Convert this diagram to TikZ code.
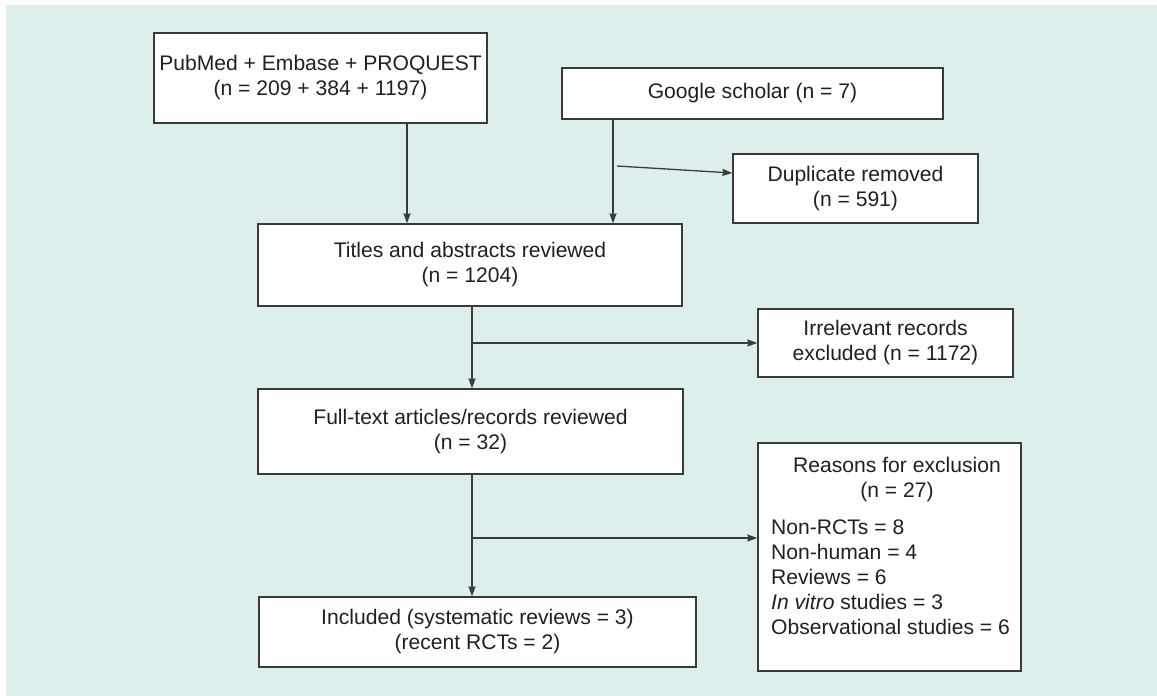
\documentclass[tikz,border=0pt]{standalone}
\usepackage{fontspec}
\setmainfont{Liberation Sans}
\usetikzlibrary{arrows.meta}
\definecolor{panel}{RGB}{220,239,237}
\definecolor{boxline}{RGB}{58,58,58}
\definecolor{ink}{RGB}{35,31,32}
\newcommand{\flowfont}{\fontsize{21.1}{25}\selectfont}
\tikzset{
  flowbox/.style={draw=boxline, fill=white, line width=1.3pt, inner sep=0pt,
    align=center, text=ink, font=\flowfont},
  flowtext/.style={inner sep=0pt, text=ink, font=\flowfont},
  arr/.style={draw=boxline, line width=1.3pt,
    -{Stealth[length=10pt,width=7pt,inset=1pt]}},
  link/.style={draw=boxline, line width=1.3pt}
}
\begin{document}
\begin{tikzpicture}[x=1pt,y=-1pt]
\useasboundingbox (0,0) rectangle (1157,696);
\fill[panel] (6,5) rectangle (1157,696);

% boxes
\node[flowbox, minimum width=333pt, minimum height=90pt] (pub) at (320.5,78)
  {PubMed + Embase + PROQUEST\\(n = 209 + 384 + 1197)};
\node[flowbox, minimum width=381pt, minimum height=51pt] (goo) at (752.5,93.5)
  {Google scholar (n = 7)};
\node[flowbox, minimum width=245pt, minimum height=69pt] (dup) at (855.5,188.5)
  {Duplicate removed\\(n = 591)};
\node[flowbox, minimum width=424pt, minimum height=82pt] (tit) at (470,265)
  {Titles and abstracts reviewed\\(n = 1204)};
\node[flowbox, minimum width=255pt, minimum height=68pt] (irr) at (885.5,343)
  {Irrelevant records\\excluded (n = 1172)};
\node[flowbox, minimum width=425pt, minimum height=85pt] (ful) at (470.5,431.5)
  {Full-text articles/records reviewed\\(n = 32)};
\node[flowbox, minimum width=263pt, minimum height=228pt] (rea) at (889.5,557) {};
\node[flowbox, minimum width=437pt, minimum height=70pt] (inc) at (477.5,632)
  {Included (systematic reviews = 3)\\(recent RCTs = 2)};

% contents of the exclusion box
\node[flowtext, align=center] (reahead) at (897,479.5)
  {Reasons for exclusion\\(n = 27)};
\node[flowtext, align=left, anchor=west] (realist) at (771,577)
  {Non-RCTs = 8\\Non-human = 4\\Reviews = 6\\\textit{In vitro} studies = 3\\Observational studies = 6};

% routing guides
\coordinate (xa) at (407,0);
\coordinate (xb) at (613,0);
\coordinate (xc) at (472,0);
\coordinate (dupfrom) at (617,166);
\coordinate (dupto) at (733,173);
\coordinate (irrjoin) at (472,343);
\coordinate (reajoin) at (472,538);

% connectors
\draw[arr] (pub.south -| xa) -- (tit.north -| xa);
\draw[arr] (goo.south -| xb) -- (tit.north -| xb);
\draw[arr] (dupfrom) -- (dup.west |- dupto);
\draw[arr] (tit.south -| xc) -- (ful.north -| xc);
\draw[arr] (irrjoin) -- (irr.west |- irrjoin);
\draw[arr] (ful.south -| xc) -- (inc.north -| xc);
\draw[arr] (reajoin) -- (rea.west |- reajoin);
\end{tikzpicture}
\end{document}
